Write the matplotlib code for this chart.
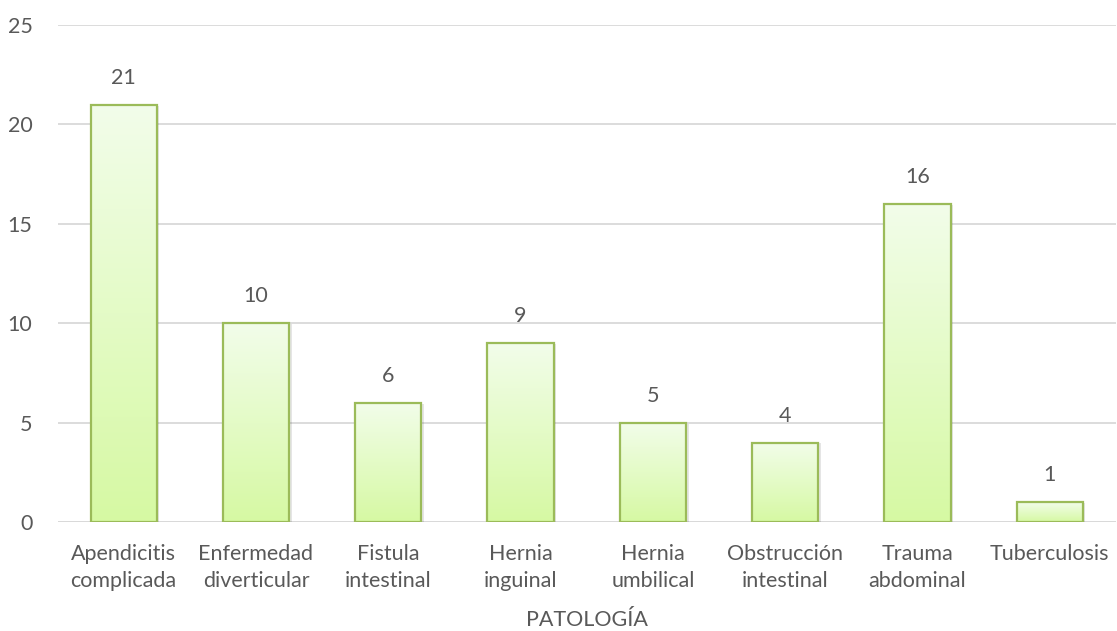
import matplotlib
matplotlib.use("Agg")
import matplotlib.pyplot as plt
import numpy as np
from matplotlib.colors import LinearSegmentedColormap
from matplotlib.patches import Rectangle

categories = ["Apendicitis\ncomplicada", "Enfermedad\ndiverticular", "Fistula\nintestinal",
              "Hernia\ninguinal", "Hernia\numbilical", "Obstrucción\nintestinal",
              "Trauma\nabdominal", "Tuberculosis"]
values = [21, 10, 6, 9, 5, 4, 16, 1]
yticks = [0, 5, 10, 15, 20, 25]
xlabel = "PATOLOGÍA"

plt.rcParams['font.family'] = ['Lato', 'DejaVu Sans']
text_color = "#595959"
fs = 15.5

fig = plt.figure(figsize=(11.17, 6.31), dpi=100)
ax = fig.add_axes([0.0515, 0.1727, 0.9475, 0.7877])

x = np.arange(len(categories))
bars = ax.bar(x, values, width=0.5, facecolor="none", edgecolor="#9BBB59",
              linewidth=1.6, zorder=4)

cmap = LinearSegmentedColormap.from_list("grad", ["#D6F9A3", "#F2FDEA"])
grad = np.linspace(0, 1, 256).reshape(-1, 1)
for b in bars:
    x0, w, h = b.get_x(), b.get_width(), b.get_height()
    # soft drop shadow
    ax.add_patch(Rectangle((x0 + 0.02, 0), w, h - 0.05, facecolor="#000000",
                           alpha=0.10, edgecolor="none", zorder=2))
    im = ax.imshow(grad, extent=(x0, x0 + w, 0, h), origin="lower", cmap=cmap,
                   aspect="auto", zorder=3, interpolation="bicubic")
    im.set_clip_path(b)
    ax.text(x0 + w / 2, h + 0.85, str(int(h)), ha="center",
            va="bottom", fontsize=fs, color=text_color)

ax.set_xlim(-0.5, len(categories) - 0.5)
ax.set_ylim(0, 25)
ax.set_yticks(yticks)
ax.set_xticks(x)
ax.set_xticklabels(categories, fontsize=fs, color=text_color, linespacing=1.4)
ax.tick_params(axis="y", labelsize=fs, labelcolor=text_color, length=0, pad=18)
ax.tick_params(axis="x", length=0, pad=16)
ax.grid(axis="y", color="#D9D9D9", linewidth=1.3, zorder=0)
ax.set_axisbelow(True)
for s in ax.spines.values():
    s.set_visible(False)
ax.axhline(0, color="#D9D9D9", linewidth=1.3, zorder=1)
ax.set_xlabel(xlabel, fontsize=fs, color=text_color, labelpad=14)

fig.savefig("out.png", dpi=100)
